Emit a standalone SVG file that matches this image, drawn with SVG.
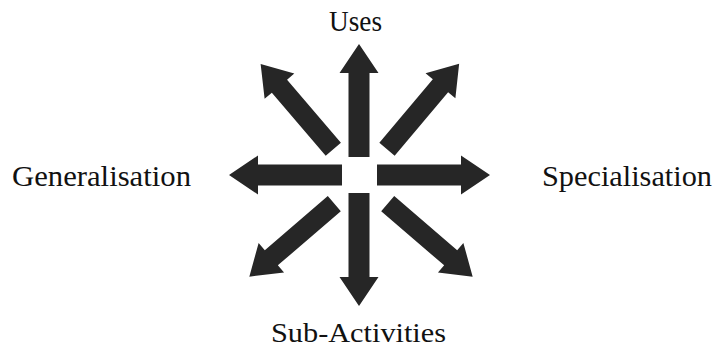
<svg xmlns="http://www.w3.org/2000/svg" width="717" height="348" viewBox="0 0 717 348">
<style>
.lbl{font-family:"Liberation Serif","Times New Roman",serif;font-size:29px;fill:#111}
.arr{fill:#262626}
</style>
<defs>
<path id="a113" d="M0,-10.5 L84,-10.5 L84,-19.5 L113,0 L84,19.5 L84,10.5 L0,10.5 Z"/>
<path id="a112" d="M0,-10 L83,-10 L83,-19.5 L112,0 L83,19.5 L83,10 L0,10 Z"/>
</defs>
<rect width="717" height="348" fill="#fff"/>
<g id="connectors" class="arr">
<use href="#a113" transform="translate(359,157) rotate(-90)"/>
<use href="#a113" transform="translate(359,193) rotate(90)"/>
<use href="#a113" transform="translate(342,175) rotate(180)"/>
<use href="#a113" transform="translate(377,175)"/>
<use href="#a112" transform="translate(333.3,149.3) rotate(-130.45)"/>
<use href="#a112" transform="translate(387,149.3) rotate(-49.9)"/>
<use href="#a112" transform="translate(334.3,203.7) rotate(139.35)"/>
<use href="#a112" transform="translate(387.7,203.7) rotate(40.65)"/>
</g>
<g id="uses"><text class="lbl" x="329" y="30.5" textLength="53" lengthAdjust="spacingAndGlyphs">Uses</text></g>
<g id="generalisation"><text class="lbl" x="12" y="186" textLength="179" lengthAdjust="spacingAndGlyphs">Generalisation</text></g>
<g id="specialisation"><text class="lbl" x="542" y="185.5" textLength="170" lengthAdjust="spacingAndGlyphs">Specialisation</text></g>
<g id="subactivities"><text class="lbl" x="271" y="342" style="font-size:28px" textLength="175" lengthAdjust="spacingAndGlyphs">Sub-Activities</text></g>
</svg>
